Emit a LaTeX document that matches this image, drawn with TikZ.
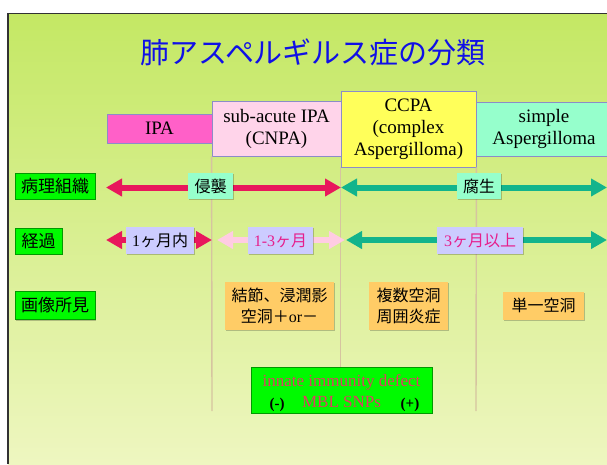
\documentclass[tikz,border=0pt]{standalone}
\usepackage{fontspec}
\setmainfont{Liberation Serif}
\newfontfamily\cjk{Noto Sans CJK JP}
\usetikzlibrary{arrows.meta,shadows}
\definecolor{bgtop}{RGB}{196,232,100}
\definecolor{bgbot}{RGB}{238,246,192}
\definecolor{framec}{RGB}{50,50,50}
\definecolor{titleblue}{RGB}{16,16,230}
\definecolor{ipac}{RGB}{255,96,200}
\definecolor{subc}{RGB}{255,212,234}
\definecolor{ccpac}{RGB}{255,255,90}
\definecolor{mintc}{RGB}{150,255,204}
\definecolor{hdrline}{RGB}{140,140,200}
\definecolor{labgreen}{RGB}{0,250,0}
\definecolor{redarr}{RGB}{232,24,92}
\definecolor{tealarr}{RGB}{18,180,140}
\definecolor{pinkarr}{RGB}{255,204,226}
\definecolor{lavc}{RGB}{204,204,255}
\definecolor{orangec}{RGB}{255,204,102}
\definecolor{vlinec}{RGB}{214,196,160}
\definecolor{magtext}{RGB}{230,30,140}
\definecolor{crimtext}{RGB}{224,60,100}
\begin{document}
\begin{tikzpicture}[x=1pt,y=-1pt,
  hdr/.style={draw=hdrline, line width=0.8pt, inner sep=0pt, align=center,
    font=\fontsize{19}{22}\selectfont},
  shad/.style={drop shadow={shadow xshift=1.3pt, shadow yshift=-1.3pt, fill=black, opacity=0.22}},
  rowlab/.style={shad, fill=labgreen, draw=green!60!black, line width=0.3pt, inner sep=0pt,
    font=\cjk\fontsize{17}{20}\selectfont},
  tag/.style={shad, inner sep=0pt, align=center, font=\cjk\fontsize{16}{21}\selectfont},
  vline/.style={draw=vlinec, line width=1.4pt},
  bigarrow/.style={line width=6pt, {Triangle[width=17pt,length=16pt]}-{Triangle[width=17pt,length=16pt]}}
]
\useasboundingbox (0,0) rectangle (607,464);
\fill[white] (0,0) rectangle (607,464);
\shade[top color=bgtop, bottom color=bgbot] (8,13.5) rectangle (607,464);
\draw[framec, line width=1.3pt] (8,464) -- (8,13.5) -- (607,13.5);

% title
\node[text=titleblue, font=\cjk\fontsize{29}{34}\selectfont] (title) at (313,52) {肺アスペルギルス症の分類};

% header boxes
\node[hdr, fill=ipac, minimum width=105pt, minimum height=29pt] (ipa) at (159.5,128.5) {IPA};
\node[hdr, fill=subc, minimum width=129pt, minimum height=55pt] (sub) at (276.5,128.5) {sub-acute IPA\\(CNPA)};
\node[hdr, fill=mintc, minimum width=136pt, minimum height=54pt] (simple) at (544,129) {simple\\Aspergilloma};
\node[hdr, fill=ccpac, minimum width=135pt, minimum height=76pt] (ccpa) at (408.5,129) {CCPA\\(complex\\Aspergilloma)};

% bottom green box
\node[shad, fill=labgreen, draw=green!60!black, line width=0.3pt, minimum width=181pt, minimum height=46pt,
  inner sep=0pt, align=center, text=crimtext, font=\fontsize{17}{20}\selectfont] (innate) at (341.5,390) {};

% vertical lines
\coordinate (v1end) at (212,411);
\coordinate (v3end) at (476,411);
\begin{pgfonlayer}{main}
\end{pgfonlayer}
\draw[vline] (sub.south west) -- (v1end);
\draw[vline] (ccpa.south west) -- (ccpa.south west |- innate.north);
\draw[vline] (ccpa.south east) -- (v3end);

% row labels
\node[rowlab, minimum width=80pt, minimum height=26pt] (byouri) at (55,186) {病理組織};
\node[rowlab, minimum width=47pt, minimum height=26pt] (keika) at (38.5,241) {経過};
\node[rowlab, minimum width=80pt, minimum height=28pt] (gazou) at (55,305.5) {画像所見};

% arrows row 1
\coordinate (r1a) at (106,187.5);
\coordinate (r1b) at (341,187.5);
\coordinate (r1c) at (607,187.5);
\draw[bigarrow, redarr] (r1a) -- (r1b);
\draw[bigarrow, tealarr] (r1b) -- (r1c);

% arrows row 2
\coordinate (r2a) at (106,240);
\coordinate (r2b) at (212,240);
\coordinate (r2c) at (217,240);
\coordinate (r2d) at (345,240);
\coordinate (r2e) at (346,240);
\coordinate (r2f) at (607,240);
\draw[bigarrow, redarr] (r2a) -- (r2b);
\draw[bigarrow, pinkarr] (r2c) -- (r2d);
\draw[bigarrow, tealarr] (r2e) -- (r2f);

% tags row 1
\node[tag, fill=mintc, minimum width=45pt, minimum height=26pt] (shinshu) at (210.5,186) {侵襲};
\node[tag, fill=mintc, minimum width=44pt, minimum height=26pt] (fusei) at (479,186) {腐生};

% tags row 2
\node[tag, fill=lavc, minimum width=68pt, minimum height=27pt] (m1) at (160,240.5) {{\rmfamily 1}ヶ月内};
\node[tag, fill=lavc, minimum width=65pt, minimum height=27pt, text=magtext] (m13) at (280.5,240.5) {{\rmfamily 1-3}ヶ月};
\node[tag, fill=lavc, minimum width=86pt, minimum height=27pt, text=magtext] (m3) at (480,240.5) {{\rmfamily 3}ヶ月以上};

% imaging
\node[tag, fill=orangec, minimum width=109pt, minimum height=48pt] (img1) at (279.5,305.5) {結節、浸潤影\\空洞＋{\rmfamily or}－};
\node[tag, fill=orangec, minimum width=79pt, minimum height=48pt] (img2) at (408.5,305.5) {複数空洞\\周囲炎症};
\node[tag, fill=orangec, minimum width=81pt, minimum height=28pt] (img3) at (543.5,305.5) {単一空洞};

% green box text
\node[text=crimtext, font=\fontsize{17}{20}\selectfont, inner sep=0pt] (innt) at (341.5,382) {innate immunity defect};
\node[text=crimtext, font=\fontsize{17}{20}\selectfont, inner sep=0pt] (mbl) at (341.5,401.5) {MBL SNPs};
\node[font=\bfseries\fontsize{15}{18}\selectfont, inner sep=0pt] (minus) at (277,405) {(-)};
\node[font=\bfseries\fontsize{15}{18}\selectfont, inner sep=0pt] (plus) at (410,405) {(+)};
\end{tikzpicture}
\end{document}
